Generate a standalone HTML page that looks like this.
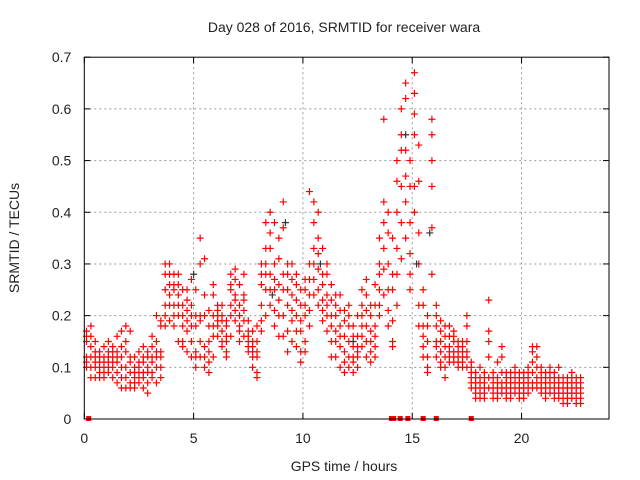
<!DOCTYPE html>
<html><head><meta charset="utf-8"><style>
body{margin:0;background:#fff}
svg{display:block;font-family:"Liberation Sans",sans-serif}
</style></head><body>
<svg id="chart" width="640" height="480" xmlns="http://www.w3.org/2000/svg">
<rect width="640" height="480" fill="#fff"/>
<text x="344" y="32" font-size="14" text-anchor="middle" fill="#222">Day 028 of 2016, SRMTID for receiver wara</text>
<text x="344" y="471" font-size="14" text-anchor="middle" fill="#222">GPS time / hours</text>
<text x="0" y="0" font-size="14" text-anchor="middle" fill="#222" transform="translate(19,238) rotate(-90)">SRMTID / TECUs</text>
<g id="grid"></g><g id="marks"></g>
<rect x="84.3" y="57.2" width="524.7" height="361.8" fill="none" stroke="#000" stroke-width="1"/>
</svg>
<script>
const xTicks=[0,5,10,15,20];
const yTicks=[0,0.1,0.2,0.3,0.4,0.5,0.6,0.7];
const yTickLabels=["0","0.1","0.2","0.3","0.4","0.5","0.6","0.7"];
const hours=[0.1,0.3,0.5,0.7,0.9,1.1,1.3,1.5,1.7,1.9,2.1,2.3,2.5,2.7,2.9,3.1,3.3,3.5,3.7,3.9,4.1,4.3,4.5,4.7,4.9,5.1,5.3,5.5,5.7,5.9,6.1,6.3,6.5,6.7,6.9,7.1,7.3,7.5,7.7,7.9,8.1,8.3,8.5,8.7,8.9,9.1,9.3,9.5,9.7,9.9,10.1,10.3,10.5,10.7,10.9,11.1,11.3,11.5,11.7,11.9,12.1,12.3,12.5,12.7,12.9,13.1,13.3,13.5,13.7,13.9,14.1,14.3,14.5,14.7,14.9,15.1,15.3,15.5,15.7,15.9,16.1,16.3,16.5,16.7,16.9,17.1,17.3,17.5,17.7,17.9,18.1,18.3,18.5,18.7,18.9,19.1,19.3,19.5,19.7,19.9,20.1,20.3,20.5,20.7,20.9,21.1,21.3,21.5,21.7,21.9,22.1,22.3,22.5,22.7];
const srmtid=[
[.17,.15,.12,.10,.16,.11],[.18,.16,.10,.08,.14,.12],[.15,.10,.12,.08,.11,.13],[.10,.13,.09,.11,.08,.12],[.12,.10,.14,.09,.11,.08],[.13,.15,.11,.10,.12,.09],[.14,.10,.12,.08,.11,.13],[.16,.09,.07,.13,.11,.12],[.17,.08,.06,.14,.10,.12],[.18,.13,.08,.06,.15,.10],
[.17,.12,.06,.09,.07,.11],[.12,.08,.06,.10,.07,.09],[.10,.13,.07,.09,.11,.08],[.11,.14,.08,.06,.12,.09],[.12,.09,.05,.07,.13,.10],[.14,.11,.08,.12,.09,.16],[.20,.12,.07,.15,.10,.13],[.13,.10,.18,.12,.08,.19],[.22,.28,.20,.25,.18,.30],[.30,.26,.22,.19,.28,.24],
[.26,.25,.22,.20,.28,.18],[.24,.20,.28,.15,.22,.26],[.15,.22,.14,.18,.20,.25],[.21,.25,.13,.17,.23,.19],[.22,.18,.12,.20,.15,.27],[.20,.13,.12,.25,.18,.10],[.19,.12,.30,.35,.20,.15],[.14,.10,.20,.31,.12,.24],[.11,.15,.09,.18,.13,.21],[.24,.20,.16,.12,.18,.26],
[.21,.18,.22,.16,.20,.19],[.20,.17,.19,.22,.15,.14],[.13,.19,.12,.15,.18,.16],[.25,.28,.22,.20,.26,.16],[.24,.27,.21,.19,.29,.23],[.20,.17,.15,.22,.18,.26],[.28,.24,.21,.16,.19,.23],[.17,.14,.15,.16,.13,.19],[.15,.13,.10,.17,.12,.14],[.12,.09,.15,.08,.18,.13],
[.28,.22,.19,.26,.30,.17],[.30,.38,.25,.28,.20,.33],[.40,.33,.28,.22,.36,.25],[.30,.25,.21,.18,.38,.27],[.35,.23,.20,.26,.31,.16],[.37,.42,.28,.20,.25,.16],[.28,.22,.17,.30,.13,.25],[.24,.19,.30,.15,.27,.21],[.23,.17,.14,.28,.20,.26],[.22,.13,.11,.17,.25,.19],
[.25,.20,.15,.27,.13,.22],[.30,.24,.18,.27,.21,.44],[.38,.33,.27,.24,.42,.30],[.35,.29,.25,.40,.22,.32],[.28,.23,.19,.33,.26,.21],[.24,.20,.17,.28,.22,.30],[.23,.18,.15,.26,.20,.12],[.20,.15,.12,.22,.17,.24],[.18,.14,.10,.21,.16,.24],[.16,.13,.09,.19,.21,.11],
[.20,.15,.18,.12,.22,.10],[.14,.11,.16,.12,.09,.18],[.12,.14,.10,.16,.13,.20],[.25,.20,.16,.22,.14,.18],[.21,.18,.15,.24,.12,.27],[.20,.15,.17,.13,.22,.11],[.18,.14,.22,.26,.12,.16],[.30,.25,.20,.35,.22,.28],[.58,.42,.38,.33,.29,.24],[.36,.30,.25,.21,.18,.40],
[.19,.15,.28,.35,.14,.25],[.50,.46,.40,.33,.28,.22],[.52,.60,.45,.38,.31,.55],[.65,.62,.47,.42,.35,.52],[.50,.45,.38,.32,.28,.25],[.67,.63,.59,.55,.45,.40],[.53,.46,.36,.30,.22,.18],[.22,.18,.16,.14,.25,.12],[.20,.15,.12,.10,.18,.09],[.58,.55,.50,.45,.37,.28],
[.20,.18,.15,.22,.14,.12],[.17,.13,.11,.15,.19,.10],[.16,.12,.14,.10,.18,.08],[.18,.14,.12,.16,.11,.13],[.17,.13,.15,.11,.12,.16],[.14,.12,.10,.15,.13,.11],[.13,.11,.15,.12,.10,.14],[.20,.18,.15,.12,.10,.13],[.09,.07,.10,.06,.08,.11],[.07,.06,.05,.08,.09,.04],
[.07,.05,.08,.06,.04,.10],[.06,.08,.05,.04,.07,.09],[.15,.12,.23,.08,.06,.17],[.09,.07,.05,.06,.08,.04],[.08,.06,.05,.07,.04,.11],[.12,.09,.07,.05,.14,.06],[.07,.05,.09,.06,.04,.08],[.06,.08,.05,.07,.09,.04],[.07,.09,.06,.05,.08,.10],[.08,.06,.07,.05,.09,.04],
[.07,.05,.08,.06,.04,.09],[.08,.06,.07,.05,.09,.10],[.11,.13,.09,.07,.06,.14],[.12,.10,.08,.06,.14,.07],[.08,.06,.07,.05,.10,.09],[.07,.05,.08,.06,.09,.04],[.08,.06,.07,.05,.09,.10],[.07,.05,.08,.06,.04,.09],[.06,.08,.05,.07,.04,.10],[.07,.05,.06,.04,.08,.03],
[.06,.04,.07,.05,.08,.03],[.08,.05,.06,.04,.07,.09],[.06,.04,.07,.05,.03,.08],[.07,.05,.06,.04,.08,.03]];
const blackHours=[5.0,9.2,12.3,14.7,15.2,15.8,8.6,10.8];
const blackValues=[0.28,0.38,0.15,0.55,0.30,0.36,0.24,0.30];
const zeroHours=[0.2,14.05,14.15,14.45,14.8,15.5,16.1,17.7];

const NS="http://www.w3.org/2000/svg";
const X0=84.3,X1=609,Y0=419,Y1=57.2,XMAX=24,YMAX=0.7;
function xs(h){return X0+h/XMAX*(X1-X0);}
function ys(v){return Y0-v/YMAX*(Y0-Y1);}
const grid=document.getElementById('grid'),marks=document.getElementById('marks');
function mk(tag,attrs,parent){const e=document.createElementNS(NS,tag);for(const k in attrs)e.setAttribute(k,attrs[k]);parent.appendChild(e);return e;}
yTicks.forEach((v,i)=>{const y=ys(v);
 if(i>0&&i<yTicks.length-1){const g=mk('line',{x1:X0,x2:X1,y1:y,y2:y,stroke:'#999','stroke-dasharray':'2,3'},grid);
 
 }
 mk('line',{x1:X0,x2:X0+6,y1:y,y2:y,stroke:'#000'},grid);
 mk('line',{x1:X1-6,x2:X1,y1:y,y2:y,stroke:'#000'},grid);
 const t=mk('text',{x:X0-13,y:y+5,'font-size':14,'text-anchor':'end',fill:'#222'},grid);t.textContent=yTickLabels[i];
 
 
});
xTicks.forEach(h=>{const x=xs(h);
 if(h>0){const g=mk('line',{x1:x,x2:x,y1:Y1,y2:Y0,stroke:'#999','stroke-dasharray':'2,3'},grid);
 
 }
 mk('line',{x1:x,x2:x,y1:Y0,y2:Y0-6,stroke:'#000'},grid);
 mk('line',{x1:x,x2:x,y1:Y1,y2:Y1+6,stroke:'#000'},grid);
 const t=mk('text',{x:x,y:443,'font-size':14,'text-anchor':'middle',fill:'#222'},grid);t.textContent=String(h);
 
 
});
function plus(h,v,col,name){const x=xs(h),y=ys(v);
 const p=mk('path',{d:`M${x-3.5},${y}H${x+3.5}M${x},${y-3.5}V${y+3.5}`,stroke:col,'stroke-width':1.2,fill:'none'},marks);
 
 }
hours.forEach((h,i)=>srmtid[i].forEach(v=>plus(h,v,'#f00','srmtid-point')));
blackHours.forEach((h,i)=>plus(h,blackValues[i],'#333','srmtid-point-alt'));
zeroHours.forEach(h=>{const r=mk('rect',{x:xs(h)-2.5,y:ys(0)-3,width:5,height:5,fill:'#f00'},marks);
 
 });
</script>
</body></html>
